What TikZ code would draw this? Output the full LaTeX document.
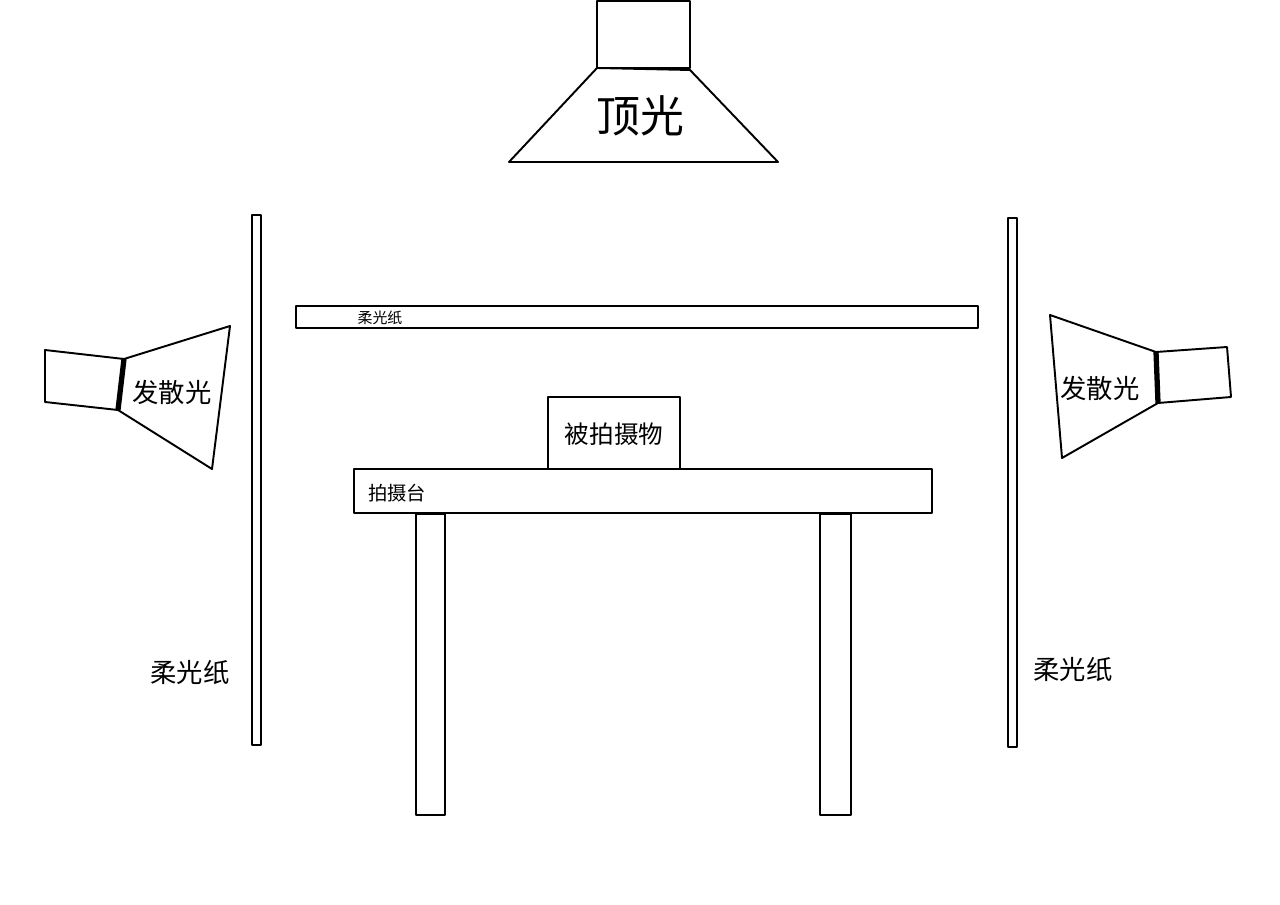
\documentclass[tikz,border=0pt]{standalone}
\usepackage{fontspec}
\setmainfont{Noto Sans CJK SC}
\tikzset{
    part/.style={draw=black, fill=white, line width=1.1pt},
    lbl/.style={font=\fontsize{15}{15}\selectfont, inner sep=0pt},
}
\begin{document}
\begin{tikzpicture}[x=0.02cm, y=-0.02cm, line join=round]
\useasboundingbox (0,0) rectangle (1280,905);
% top light
\draw[part] (597,1) rectangle (690,68);
\draw[part] (597,68) -- (690,70) -- (778,162) -- (509,162) -- cycle;
\node[lbl, font=\fontsize{25}{25}\selectfont] (top) at (640,116) {顶光};
% side screens
\draw[part] (252,215) rectangle (261,745);
\draw[part] (1008,218) rectangle (1017,747);
\node[lbl] (lscreen) at (190,672) {柔光纸};
\node[lbl] (rscreen) at (1073,669) {柔光纸};
% top screen
\draw[part] (296,306) rectangle (978,328);
\node[lbl, font=\fontsize{8.5}{8.5}\selectfont] (tscreen) at (380,318) {柔光纸};
% left lamp
\draw[part] (45,350) -- (124,359) -- (118,410) -- (45,402) -- cycle;
\draw[part] (124,359) -- (230,326) -- (212,469) -- (118,410) -- cycle;
\draw[line width=3pt] (124,359) -- (118,410);
\node[lbl] (llamp) at (172,392) {发散光};
% right lamp
\draw[part] (1156,352) -- (1227,347) -- (1231,397) -- (1158,403) -- cycle;
\draw[part] (1050,315) -- (1156,352) -- (1158,403) -- (1062,458) -- cycle;
\draw[line width=3pt] (1156,352) -- (1158,403);
\node[lbl] (rlamp) at (1100,388) {发散光};
% table and object
\draw[part] (548,397) rectangle (680,469);
\node[lbl, font=\fontsize{14}{14}\selectfont] (obj) at (614,434) {被拍摄物};
\draw[part] (416,514) rectangle (445,815);
\draw[part] (820,514) rectangle (851,815);
\draw[part] (354,469) rectangle (932,513);
\node[lbl, font=\fontsize{11}{11}\selectfont] (stage) at (397,493) {拍摄台};
\end{tikzpicture}
\end{document}
